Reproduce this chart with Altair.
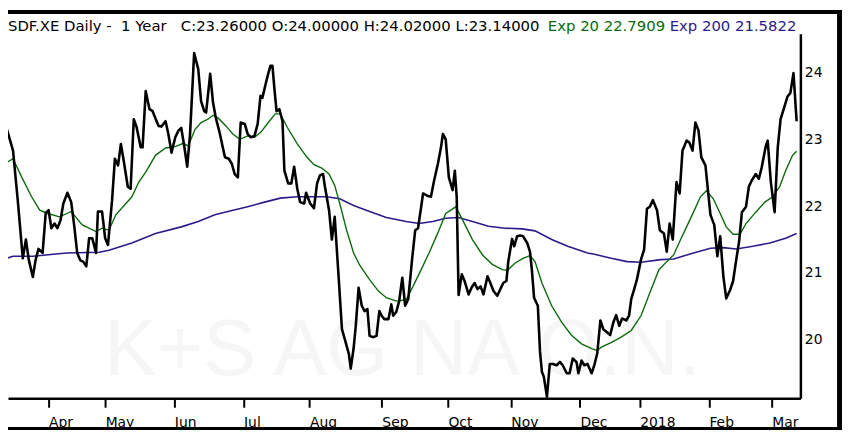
import altair as alt
import pandas as pd

# ---- data (x = trading-day number, y = price) ----
price_day = [0.5, 1.8, 3.7, 5.2, 6.8, 7.8, 8.7, 10.0, 10.9, 11.8, 13.1, 14.1, 15.0, 15.9, 16.9, 17.8, 18.8, 19.7,
             21.0, 22.2, 23.2, 24.1, 25.1, 26.0, 27.0, 27.9, 28.9, 30.1, 30.7, 32.0, 33.0, 33.9, 35.2, 36.1, 37.1,
             38.0, 38.9, 40.2, 41.1, 42.1, 43.0, 44.3, 44.9, 45.9, 47.1, 48.1, 49.0, 50.0, 50.9, 52.2, 53.1, 54.1,
             55.3, 56.3, 57.2, 58.2, 59.1, 60.0, 61.3, 62.6, 63.5, 64.5, 65.1, 66.4, 67.3, 68.2, 69.5, 70.4, 71.1,
             72.3, 73.3, 74.2, 75.2, 76.1, 77.4, 78.3, 79.3, 80.5, 81.5, 82.4, 83.0, 84.0, 84.9, 85.6, 86.2, 86.8,
             87.5, 88.4, 89.4, 90.0, 91.2, 92.2, 93.1, 94.1, 95.0, 96.3, 96.9, 98.2, 99.4, 100.4, 101.3, 102.3,
             102.9, 104.2, 105.1, 106.0, 107.3, 108.3, 109.2, 110.5, 111.1, 112.0, 112.7, 113.6, 114.6, 115.5,
             116.4, 117.1, 118.3, 119.3, 120.2, 120.9, 121.8, 123.1, 124.0, 124.6, 125.6, 126.5, 127.5, 128.4,
             129.4, 130.6, 131.6, 132.5, 133.5, 134.1, 135.7, 136.6, 137.6, 138.8, 139.8, 140.4, 141.3, 142.3,
             143.5, 144.2, 144.8, 145.4, 146.4, 147.3, 148.6, 149.5, 150.5, 151.4, 152.4, 153.3, 154.6, 155.5,
             156.5, 157.7, 158.7, 159.6, 160.6, 161.2, 162.4, 163.1, 164.0, 165.0, 165.9, 167.2, 168.1, 168.7,
             169.4, 170.6, 171.3, 171.9, 172.5, 173.5, 174.4, 175.4, 176.6, 177.6, 178.5, 179.8, 180.7, 181.7,
             182.9, 183.5, 184.5, 185.4, 186.4, 187.7, 188.6, 189.5, 190.5, 191.4, 192.7, 193.6, 194.6, 195.5,
             196.5, 197.4, 198.7, 199.6, 200.3, 201.2, 202.1, 203.4, 204.4, 205.3, 206.2, 207.2, 208.5, 209.4,
             210.7, 211.6, 212.5, 213.5, 214.7, 215.7, 216.6, 217.9, 218.8, 219.8, 220.7, 221.7, 222.6, 223.9,
             224.8, 225.5, 226.7, 227.7, 228.6, 229.6, 230.5, 231.8, 232.7, 233.7, 234.6, 235.5, 236.8, 237.7,
             238.7, 239.9, 240.9, 241.8, 243.1, 243.7, 244.7, 245.9, 246.9, 247.8, 249.1, 250.0, 250.9, 251.9,
             252.9]
price_val = [22.88, 23.14, 22.83, 22.09, 21.22, 21.50, 21.20, 20.94, 21.20, 21.36, 21.30, 21.90, 21.94, 21.67,
             21.74, 21.67, 21.79, 22.04, 22.20, 22.06, 21.69, 21.30, 21.19, 21.17, 21.10, 21.52, 21.52, 21.30,
             21.92, 21.92, 21.52, 21.42, 22.09, 22.71, 22.61, 22.93, 22.68, 22.29, 22.26, 23.30, 23.18, 22.88,
             22.88, 23.72, 23.45, 23.42, 23.31, 23.20, 23.19, 23.27, 23.08, 22.80, 23.03, 23.13, 23.17, 22.88,
             22.59, 23.08, 24.29, 24.05, 23.57, 23.42, 23.40, 23.98, 23.55, 23.32, 23.08, 22.88, 22.73, 22.71,
             22.63, 22.48, 22.43, 23.25, 23.23, 23.08, 23.03, 23.05, 23.23, 23.65, 23.62, 23.82, 23.99, 24.10,
             24.10, 23.77, 23.42, 23.45, 23.27, 22.53, 22.34, 22.34, 22.59, 22.26, 22.06, 22.04, 22.20, 22.04,
             21.97, 22.34, 22.46, 22.48, 22.29, 21.94, 21.50, 21.84, 20.90, 20.16, 20.01, 19.79, 19.57, 19.87,
             20.21, 20.78, 20.51, 20.43, 20.46, 20.06, 20.04, 20.06, 20.43, 20.36, 20.31, 20.31, 20.53, 20.36,
             20.42, 20.58, 20.93, 20.51, 20.61, 21.20, 21.64, 21.67, 21.99, 22.19, 22.15, 22.14, 22.38, 22.63,
             22.88, 23.08, 23.00, 22.43, 22.24, 22.53, 22.14, 20.67, 20.98, 20.88, 20.68, 20.78, 20.85, 20.76,
             20.80, 20.68, 20.95, 20.85, 20.73, 20.66, 20.76, 20.85, 20.88, 21.17, 21.51, 21.40, 21.55, 21.56,
             21.55, 21.45, 21.32, 21.05, 20.63, 20.51, 19.82, 19.52, 19.45, 19.15, 19.64, 19.64, 19.62, 19.67,
             19.62, 19.50, 19.50, 19.72, 19.67, 19.50, 19.69, 19.62, 19.64, 19.50, 19.63, 19.80, 20.29, 20.16,
             20.11, 20.07, 20.26, 20.37, 20.21, 20.32, 20.29, 20.36, 20.61, 20.75, 20.90, 21.20, 21.35, 21.96,
             21.99, 22.09, 21.94, 21.64, 21.59, 21.32, 21.74, 21.50, 22.36, 22.19, 22.83, 22.98, 22.95, 22.83,
             23.25, 23.13, 22.73, 22.61, 22.19, 21.87, 21.72, 21.25, 21.55, 20.95, 20.62, 20.75, 20.88, 21.20,
             21.47, 21.91, 21.99, 22.29, 22.39, 22.48, 22.41, 22.58, 22.90, 22.98, 22.36, 21.91, 22.88, 23.30,
             23.50, 23.64, 23.69, 23.99, 23.27]

ema20_day = [0.5, 3.7, 6.5, 9.6, 12.2, 14.7, 18.5, 22.2, 25.7, 30.1, 32.0, 34.2, 36.4, 39.6, 41.5, 43.7, 45.9,
             49.0, 52.2, 55.3, 57.8, 59.4, 61.6, 63.5, 65.7, 67.3, 68.9, 71.4, 73.6, 75.8, 78.3, 80.5, 82.4, 85.2,
             87.1, 88.7, 90.9, 94.1, 97.2, 99.4, 101.9, 104.2, 106.0, 107.6, 109.8, 112.0, 113.9, 117.1, 119.9,
             122.4, 125.6, 128.7, 130.9, 133.5, 136.0, 138.8, 141.3, 142.9, 144.5, 146.7, 149.8, 153.0, 156.1,
             159.3, 160.9, 163.4, 165.9, 168.1, 169.7, 171.9, 175.0, 178.2, 181.3, 184.5, 187.7, 189.5, 190.8,
             193.9, 197.1, 200.3, 203.4, 206.6, 209.1, 211.6, 213.8, 216.0, 217.9, 220.1, 222.3, 224.2, 226.4,
             228.6, 230.5, 232.7, 234.9, 236.8, 239.9, 242.8, 245.3, 247.5, 249.4, 251.6, 252.9]
ema20_val = [22.62, 22.71, 22.43, 22.14, 21.94, 21.89, 21.84, 21.92, 21.72, 21.62, 21.67, 21.64, 21.87, 22.04,
             22.14, 22.36, 22.51, 22.76, 22.87, 22.89, 22.94, 22.90, 23.15, 23.25, 23.30, 23.36, 23.32, 23.20,
             23.08, 23.00, 23.05, 23.03, 23.10, 23.27, 23.38, 23.38, 23.18, 22.93, 22.73, 22.62, 22.57, 22.48,
             22.31, 22.04, 21.64, 21.30, 21.12, 20.90, 20.73, 20.63, 20.58, 20.60, 20.80, 21.05, 21.30, 21.60,
             21.89, 21.94, 21.99, 21.79, 21.50, 21.27, 21.13, 21.05, 21.04, 21.15, 21.22, 21.26, 21.17, 20.85,
             20.51, 20.26, 20.07, 19.94, 19.87, 19.84, 19.89, 19.96, 20.04, 20.14, 20.36, 20.75, 21.05, 21.17,
             21.27, 21.50, 21.69, 21.91, 22.14, 22.23, 22.11, 21.89, 21.69, 21.58, 21.58, 21.74, 21.91, 22.06,
             22.14, 22.29, 22.53, 22.76, 22.82]

ema200_day = [0.5, 3.7, 10.0, 20.7, 31.1, 34.2, 41.5, 49.0, 57.2, 62.6, 67.9, 73.0, 78.3, 83.7, 88.7, 94.1,
              99.4, 103.5, 107.6, 112.0, 117.1, 122.4, 125.6, 128.7, 132.8, 137.2, 141.3, 145.4, 149.8, 154.9,
              160.2, 165.6, 169.7, 175.0, 180.1, 186.4, 188.6, 193.9, 199.0, 203.4, 209.7, 213.8, 220.1, 225.5,
              229.6, 233.7, 239.0, 244.4, 249.4, 252.9]
ema200_val = [21.20, 21.25, 21.25, 21.30, 21.31, 21.34, 21.45, 21.59, 21.69, 21.77, 21.87, 21.93, 21.99, 22.06,
              22.12, 22.14, 22.14, 22.14, 22.11, 22.01, 21.92, 21.83, 21.80, 21.77, 21.74, 21.77, 21.82, 21.83,
              21.77, 21.70, 21.67, 21.66, 21.63, 21.50, 21.40, 21.30, 21.28, 21.22, 21.17, 21.16, 21.20, 21.21,
              21.30, 21.37, 21.38, 21.36, 21.40, 21.45, 21.52, 21.59]

month_days = [15, 33, 55, 77, 98, 121, 142, 162, 184, 203, 225, 245]
month_labels = ["Apr", "May", "Jun", "Jul", "Aug", "Sep", "Oct", "Nov", "Dec", "2018", "Feb", "Mar"]
price_ticks = [20, 21, 22, 23, 24]

NB = "\u00a0"
title_main = ("SDF.XE Daily -" + NB * 2 + "1 Year" + NB * 3 +
              "C:23.26000 O:24.00000 H:24.02000 L:23.14000")
title_ema20 = "Exp 20 22.7909"
title_ema200 = "Exp 200 21.5822"
watermark = "K+S AG NA O.N."

GREEN = "#0b6a0b"
NAVY = "#2c1b8c"
FONT = "DejaVu Sans"
W, H = 800, 368

price_df = pd.DataFrame({"day": price_day, "price": price_val})
ema20_df = pd.DataFrame({"day": ema20_day, "price": ema20_val})
ema200_df = pd.DataFrame({"day": ema200_day, "price": ema200_val})

label_expr = " : ".join(f"datum.value == {d} ? '{m}'" for d, m in zip(month_days, month_labels)) + " : ''"

xscale = alt.Scale(domain=[2.1, 254.1], nice=False, zero=False)
yscale = alt.Scale(domain=[19.126, 24.578], nice=False, zero=False)

x_axis = alt.Axis(values=month_days, labelExpr=label_expr, title=None, grid=False,
                  domainColor="black", domainWidth=2.5, tickColor="black", tickWidth=2, tickSize=9,
                  labelAlign="left", labelBaseline="top", labelPadding=8, labelFont=FONT, labelFontSize=14,
                  labelColor="black", labelFlush=False, labelOverlap=False, orient="bottom")
y_axis = alt.Axis(values=price_ticks, title=None, grid=False, orient="right", domainColor="black",
                  domainWidth=2.5, ticks=False, labelPadding=4, labelFont=FONT, labelFontSize=14,
                  labelColor="black", labelFlush=False)


def enc(base):
    return base.encode(
        x=alt.X("day:Q", scale=xscale, axis=x_axis),
        y=alt.Y("price:Q", scale=yscale, axis=y_axis))


one = pd.DataFrame({"k": [0]})

wm = alt.Chart(one).mark_text(text=watermark, font="Liberation Sans", fontSize=80, color="#f6f6f6",
                              align="center", baseline="alphabetic").encode(
    x=alt.value(398), y=alt.value(344))

ema200 = enc(alt.Chart(ema200_df).mark_line(color=NAVY, strokeWidth=1.6, clip=True))
ema20 = enc(alt.Chart(ema20_df).mark_line(color=GREEN, strokeWidth=1.4, clip=True))
price = enc(alt.Chart(price_df).mark_line(color="black", strokeWidth=2.6, clip=True, strokeJoin="round"))

t1 = alt.Chart(one).mark_text(text=title_main, font=FONT, fontSize=15, color="black", align="left",
                              baseline="alphabetic").encode(x=alt.value(0), y=alt.value(-3))
t2 = alt.Chart(one).mark_text(text=title_ema20, font=FONT, fontSize=15, color=GREEN, align="left",
                              baseline="alphabetic").encode(x=alt.value(545), y=alt.value(-3))
t3 = alt.Chart(one).mark_text(text=title_ema200, font=FONT, fontSize=15, color=NAVY, align="left",
                              baseline="alphabetic").encode(x=alt.value(668), y=alt.value(-3))

frame_top = alt.Chart(one).mark_rect(color="black").encode(
    x=alt.value(0), x2=alt.value(842), y=alt.value(-24), y2=alt.value(-20))
frame_right = alt.Chart(one).mark_rect(color="black").encode(
    x=alt.value(837), x2=alt.value(842), y=alt.value(-24), y2=alt.value(400))
frame_bottom = alt.Chart(one).mark_rect(color="black").encode(
    x=alt.value(0), x2=alt.value(842), y=alt.value(397), y2=alt.value(400))

chart = alt.layer(wm, ema200, ema20, price, t1, t2, t3, frame_top, frame_right, frame_bottom).properties(
    width=W, height=H,
    autosize=alt.AutoSizeParams(type="none"),
    padding={"left": 0, "top": 24, "right": 42, "bottom": 32},
    background="white",
).configure_view(stroke=None)

chart.save("out.html", embed_options={"renderer": "svg", "actions": False})
